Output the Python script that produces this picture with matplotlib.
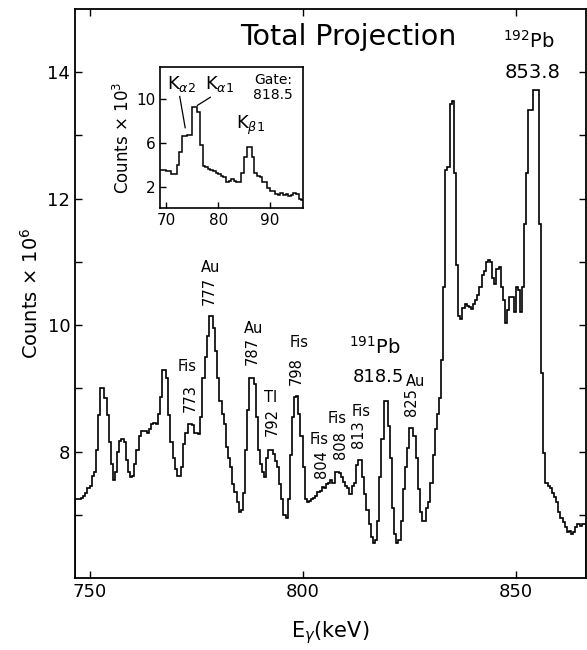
import matplotlib
matplotlib.use("Agg")
import matplotlib.pyplot as plt
import numpy as np

plt.rcParams['font.family'] = ['DejaVu Sans']
plt.rcParams['mathtext.fontset'] = 'dejavusans'

# total projection spectrum, 0.5 keV bins starting at 746.5 keV (counts x 10^6)
main_start = 746.5
main_width = 0.5
main_counts = [
    7.25, 7.25, 7.25, 7.27, 7.30, 7.35, 7.43, 7.46, 7.62, 7.67,
    8.02, 8.58, 9.00, 9.00, 8.85, 8.58, 8.15, 7.80, 7.55, 7.67,
    8.00, 8.17, 8.20, 8.15, 7.86, 7.67, 7.60, 7.62, 7.80, 8.02,
    8.25, 8.33, 8.33, 8.33, 8.30, 8.35, 8.44, 8.45, 8.44, 8.60,
    8.86, 9.29, 9.29, 9.17, 8.57, 8.15, 7.90, 7.73, 7.62, 7.62,
    7.75, 8.12, 8.30, 8.44, 8.44, 8.42, 8.29, 8.29, 8.28, 8.54,
    9.17, 9.50, 9.83, 10.14, 10.14, 9.96, 9.59, 9.17, 8.80, 8.60,
    8.44, 8.07, 7.90, 7.75, 7.49, 7.36, 7.20, 7.05, 7.08, 7.35,
    8.02, 8.65, 9.17, 9.17, 9.07, 8.54, 8.02, 7.80, 7.67, 7.60,
    7.90, 8.02, 8.02, 7.96, 7.85, 7.75, 7.49, 7.25, 7.00, 6.95,
    7.25, 7.95, 8.55, 8.86, 8.88, 8.60, 8.25, 7.75, 7.25, 7.20,
    7.22, 7.25, 7.27, 7.30, 7.36, 7.38, 7.44, 7.42, 7.48, 7.50,
    7.55, 7.50, 7.67, 7.67, 7.66, 7.60, 7.52, 7.45, 7.42, 7.33,
    7.45, 7.50, 7.78, 7.87, 7.87, 7.60, 7.33, 7.07, 6.85, 6.65,
    6.55, 6.60, 6.90, 7.60, 8.20, 8.80, 8.80, 8.40, 7.90, 7.10,
    6.70, 6.55, 6.60, 6.90, 7.40, 7.75, 8.05, 8.38, 8.38, 8.25,
    7.90, 7.40, 7.05, 6.90, 6.90, 7.10, 7.20, 7.50, 7.95, 8.35,
    8.60, 8.85, 9.45, 10.60, 12.45, 12.50, 13.50, 13.55, 12.40, 10.95,
    10.15, 10.10, 10.27, 10.33, 10.30, 10.28, 10.25, 10.33, 10.40, 10.48,
    10.60, 10.80, 10.85, 11.00, 11.03, 11.00, 10.75, 10.65, 10.88, 10.92,
    10.60, 10.40, 10.03, 10.24, 10.45, 10.45, 10.20, 10.60, 10.55, 10.20,
    10.60, 11.60, 12.40, 13.40, 13.40, 13.72, 13.72, 13.72, 11.60, 9.25,
    7.97, 7.50, 7.45, 7.42, 7.35, 7.28, 7.20, 7.05, 6.95, 6.88,
    6.80, 6.73, 6.75, 6.70, 6.72, 6.80, 6.85, 6.83, 6.85, 6.85,
]

# x-ray spectrum gated on 818.5 keV (counts x 10^3)
inset_start = 68.5
inset_width = 0.5
inset_counts = [
    3.55, 3.55, 3.50, 3.45, 3.40, 3.15, 3.15, 3.95, 5.20, 6.60,
    6.65, 6.70, 6.75, 9.35, 9.35, 8.85, 5.85, 3.85, 3.80, 3.65,
    3.50, 3.45, 3.20, 3.15, 3.00, 2.90, 2.45, 2.50, 2.65, 2.55,
    2.45, 2.45, 3.20, 4.75, 5.65, 5.65, 4.70, 3.20, 2.95, 2.90,
    2.45, 2.45, 1.85, 1.55, 1.55, 1.30, 1.20, 1.40, 1.25, 1.30,
    1.15, 1.20, 1.45, 1.35, 0.85, 0.80,
]

# peak labels: (name, energy, name_x, name_y, energy_x, energy_y)
peak_labels = [
    ("Fis", "773", 773.0, 9.34, 773.6, 8.85),
    ("Au", "777", 778.3, 10.91, 778.05, 10.54),
    ("Au", "787", 788.4, 9.95, 788.1, 9.59),
    ("Tl", "792", 792.6, 8.85, 792.8, 8.46),
    ("Fis", "798", 799.1, 9.72, 798.6, 9.28),
    ("Fis", "804", 803.8, 8.19, 804.5, 7.80),
    ("Fis", "808", 808.0, 8.52, 808.8, 8.11),
    ("Fis", "813", 813.7, 8.63, 813.2, 8.27),
    ("Au", "825", 826.5, 9.10, 825.5, 8.79),
]

fig = plt.figure(figsize=(5.87, 6.5), dpi=100)
ax = fig.add_axes([0.1278, 0.1108, 0.8697, 0.8754])

edges = main_start + main_width * np.arange(len(main_counts) + 1)
ax.stairs(main_counts, edges, color='black', lw=1.2)

ax.set_xlim(746.6, 866.4)
ax.set_ylim(6, 15)
ax.set_xticks([750, 800, 850])
ax.set_yticks([8, 10, 12, 14])
ax.set_yticks([7, 9, 11, 13], minor=True)
ax.tick_params(which='both', direction='in', top=True, right=True,
               length=5, width=1, labelsize=13)
for s in ax.spines.values():
    s.set_linewidth(1.3)

ax.set_xlabel(r'E$_\gamma$(keV)', fontsize=15, labelpad=13)
ax.set_ylabel(r'Counts $\times$ 10$^6$', fontsize=14, labelpad=4)

ax.text(810.8, 14.55, 'Total Projection', fontsize=20.5, ha='center', va='center')

for name, en, nx, ny, ex, ey in peak_labels:
    ax.text(nx, ny, name, fontsize=10.5, ha='center', va='center')
    ax.text(ex, ey, en, fontsize=10.5, ha='center', va='center', rotation=90)

ax.text(817.1, 9.65, r'$^{191}$Pb', fontsize=14, ha='center', va='center')
ax.text(817.9, 9.18, '818.5', fontsize=13, ha='center', va='center')
ax.text(853.0, 14.5, r'$^{192}$Pb', fontsize=14, ha='center', va='center')
ax.text(854.0, 14.0, '853.8', fontsize=14, ha='center', va='center')

# inset with the gated x-rays
ins = fig.add_axes([0.2726, 0.6795, 0.2431, 0.2178])
iedges = inset_start + inset_width * np.arange(len(inset_counts) + 1)
ins.stairs(inset_counts, iedges, color='black', lw=1.1)
ins.set_xlim(68.8, 96.3)
ins.set_ylim(0, 13)
ins.set_xticks([70, 80, 90])
ins.set_yticks([2, 6, 10])
ins.tick_params(direction='in', length=4, width=1, labelsize=11)
for s in ins.spines.values():
    s.set_linewidth(1.2)
ins.set_ylabel(r'Counts $\times$ 10$^3$', fontsize=12, labelpad=2)

ins.text(73.0, 11.4, r'K$_{\alpha2}$', fontsize=13, ha='center', va='center')
ins.plot([72.6, 73.65], [10.27, 7.4], color='black', lw=0.9)
ins.text(80.2, 11.4, r'K$_{\alpha1}$', fontsize=13, ha='center', va='center')
ins.plot([78.5, 76.0], [10.2, 9.45], color='black', lw=0.9)
ins.text(86.2, 7.6, r'K$_{\beta1}$', fontsize=13, ha='center', va='center')
ins.text(90.6, 11.8, 'Gate:', fontsize=10, ha='center', va='center')
ins.text(90.6, 10.4, '818.5', fontsize=10, ha='center', va='center')

fig.savefig('out.png', dpi=100)
